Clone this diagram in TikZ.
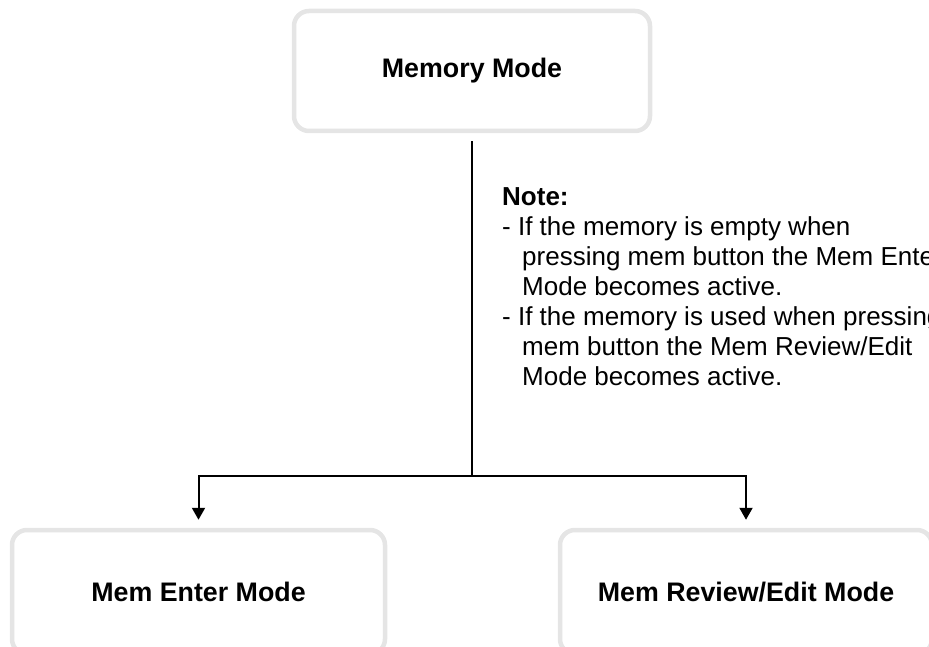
\documentclass[tikz,border=0pt]{standalone}
\usepackage{fontspec}
\setmainfont{Liberation Sans}
\usetikzlibrary{arrows.meta}
\begin{document}
\begin{tikzpicture}[x=1pt,y=-1pt,
  modebox/.style={draw=black!10, line width=4.5pt, fill=white, rounded corners=15pt,
    inner sep=0pt, font=\fontsize{26.8}{30}\selectfont\bfseries},
  conn/.style={line width=2pt, draw=black},
  arr/.style={conn, -{Triangle[width=13pt,length=12pt]}}]
\useasboundingbox (0,0) rectangle (929,647);
\node[modebox, minimum width=356pt, minimum height=120pt] (mem) at (472,71) {Memory Mode};
\node[modebox, minimum width=373pt, minimum height=124pt] (enter) at (198.5,592) {Mem Enter Mode};
\node[modebox, minimum width=372pt, minimum height=124pt] (review) at (746,592) {Mem Review/Edit Mode};
\coordinate (junc) at (472,476);
\draw[conn, shorten <=8pt] (mem.south) -- (junc);
\draw[arr, shorten >=8pt] (junc) -| (enter.north);
\draw[arr, shorten >=8pt] (junc) -| (review.north);
\node[anchor=north west, align=left, inner sep=0pt, font=\fontsize{26}{30}\selectfont] (note) at (502,187)
  {\textbf{Note:}\\
   - If the memory is empty when\\
   \hspace*{20pt}pressing mem button the Mem Enter\\
   \hspace*{20pt}Mode becomes active.\\
   - If the memory is used when pressing\\
   \hspace*{20pt}mem button the Mem Review/Edit\\
   \hspace*{20pt}Mode becomes active.};
\end{tikzpicture}
\end{document}
